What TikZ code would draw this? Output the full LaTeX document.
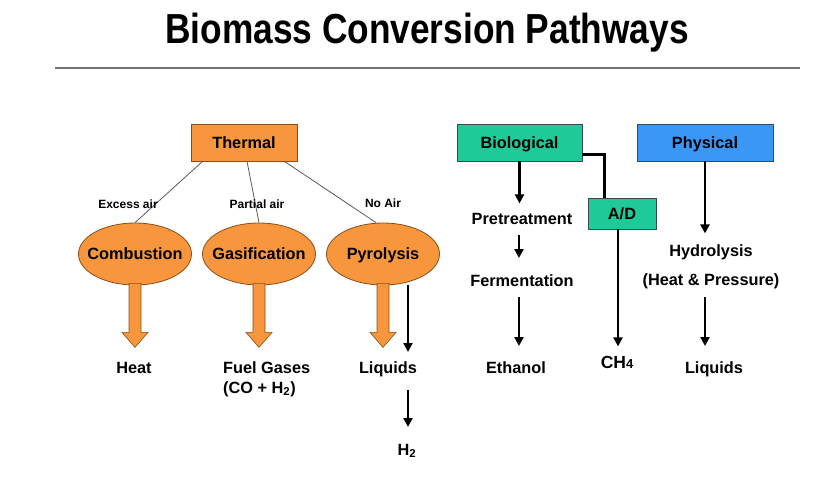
\documentclass[tikz,border=0pt]{standalone}
\usepackage{fontspec}
\setmainfont{Liberation Sans}
\usetikzlibrary{shapes.geometric,arrows.meta,calc}
\definecolor{orng}{HTML}{F7963C}
\definecolor{orngline}{HTML}{8A4E16}
\definecolor{teal}{HTML}{1ECB98}
\definecolor{skyb}{HTML}{3B97F5}
\definecolor{boxline}{HTML}{3A4A55}
\tikzset{
  txt/.style={anchor=base, inner sep=0pt, font=\bfseries\fontsize{16.3}{19}\selectfont},
  airlbl/.style={anchor=base, inner sep=0pt, font=\bfseries\fontsize{12}{14}\selectfont},
  boxbase/.style={line width=0.8pt, minimum height=37pt, inner sep=0pt, text height=11.8pt, text depth=0pt, font=\bfseries\fontsize{16.3}{19}\selectfont},
  obox/.style={boxbase, draw=orngline, fill=orng},
  gbox/.style={boxbase, draw=boxline, fill=teal},
  bbox/.style={boxbase, draw=boxline, fill=skyb},
  oell/.style={ellipse, draw=orngline, fill=orng, line width=0.8pt, minimum width=113pt, minimum height=62pt, inner sep=0pt},
  elltxt/.style={inner sep=0pt, text height=11.8pt, text depth=0pt, font=\bfseries\fontsize{16.3}{19}\selectfont},
  thin/.style={draw=black!65, line width=0.8pt},
  arr/.style={line width=2.8pt, -{Triangle[length=9pt,width=9pt]}},
  elbow/.style={line width=3.5pt},
  barrow/.style={fill=orng, draw=orngline, line width=0.6pt, line join=miter}
}
\begin{document}
\begin{tikzpicture}[x=1pt,y=-1pt]
\useasboundingbox (0,0) rectangle (832,487);
% title
\node[anchor=base, inner sep=0pt, font=\bfseries\fontsize{42}{48}\selectfont] (title) at (427,44) {\scalebox{0.84}[1]{Biomass Conversion Pathways}};
\draw[black!55, line width=1.5pt] (55,68) -- (800,68);

% Thermal branch
\node[obox, minimum width=106pt] (thermal) at (244,142.5) {Thermal};
\node[oell] (comb) at (135,254) {};
\node[oell] (gas) at (259,254) {};
\node[oell] (pyro) at (383,254) {};
\node[elltxt] (combt) at (comb) {Combustion};
\node[elltxt] (gast) at (gas) {Gasification};
\node[elltxt] (pyrot) at (pyro) {Pyrolysis};

\draw[thin] ($(thermal.south west)+(12,0)$) -- (comb.north);
\draw[thin] ($(thermal.south)+(3,0)$) -- (gas.north);
\draw[thin] ($(thermal.south east)+(-13,0)$) -- ($(pyro.north)+(-7,0)$);

\node[airlbl] (la) at (128,208) {Excess air};
\node[airlbl] (lb) at (257,208) {Partial air};
\node[airlbl] (lc) at (383,207) {No Air};

% block arrows
\foreach \e in {comb,gas,pyro}{
  \filldraw[barrow] ($(\e.south)+(-6,-2)$) -- ++(0,49) -- ++(-7,0) -- ++(13,15) -- ++(13,-15) -- ++(-7,0) -- ++(0,-49) -- cycle;
}

\node[txt] (heat) at (134,373) {Heat};
\node[txt, anchor=base west] (fuel) at (223,373) {Fuel Gases};
\node[txt, anchor=base west] (co) at (223,393) {(CO + H\textsubscript{2})};
\node[txt] (liq1) at (388,373) {Liquids};
\node[txt] (h2) at (407,455) {H\textsubscript{2}};

\coordinate (p1) at (408,285);
\coordinate (p2) at (408,352);
\coordinate (p3) at (408,390);
\coordinate (p4) at (408,427);
\draw[arr] (p1) -- (p2);
\draw[arr] (p3) -- (p4);

% Biological branch
\node[gbox, minimum width=125pt] (bio) at (519.5,142.5) {Biological};
\node[gbox, minimum width=68pt, minimum height=31pt] (ad) at (622,213.5) {A/D};
\node[txt] (pre) at (522,224) {Pretreatment};
\node[txt] (ferm) at (522,286) {Fermentation};
\node[txt] (eth) at (516,373) {Ethanol};
\node[txt, font=\bfseries\fontsize{17.5}{20}\selectfont] (ch4) at (617,368) {CH{\fontsize{13}{14}\selectfont 4}};

\draw[elbow] ($(bio.south east)+(0,-7)$) -| ($(ad.north west)+(17,0)$);
\draw[arr] (bio.south) -- ++(0,42);
\draw[arr] ($(pre.base)+(-3,11)$) -- ++(0,23);
\draw[arr] ($(ferm.base)+(-3,11)$) -- ++(0,49);
\draw[arr] ($(ad.south)+(-4,0)$) -- ++(0,117);

% Physical branch
\node[bbox, minimum width=136pt] (phys) at (705,142.5) {Physical};
\node[txt] (hyd) at (711,256) {Hydrolysis};
\node[txt] (hp) at (711,285) {(Heat \& Pressure)};
\node[txt] (liq2) at (714,373) {Liquids};
\draw[arr] (phys.south) -- ++(0,72);
\draw[arr] ($(hp.base)+(-6,12)$) -- ++(0,49);
\end{tikzpicture}
\end{document}
